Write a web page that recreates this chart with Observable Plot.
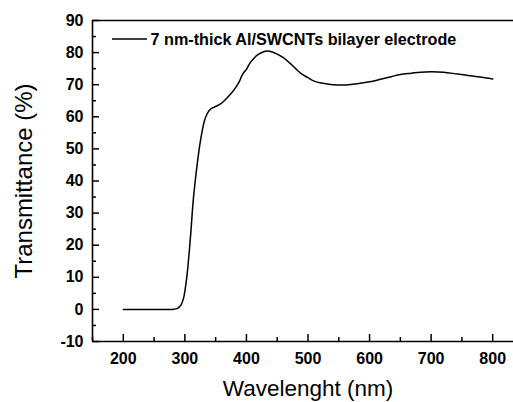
<!DOCTYPE html>
<html>
<head>
<meta charset="utf-8">
<script src="https://cdn.jsdelivr.net/npm/d3@7"></script>
<script src="https://cdn.jsdelivr.net/npm/@observablehq/plot@0.6"></script>
<style>
  html, body { margin: 0; padding: 0; background: #fff; overflow: hidden; }
  #chart svg { display: block; }
</style>
</head>
<body>
<div id="chart"></div>
<script>
// Data
const wavelength = [200, 250, 280, 288, 294, 298, 303, 309, 314, 320, 326, 333, 341, 350, 358, 366, 374, 381, 388, 393, 396, 399, 406, 413, 420, 427, 434, 442, 450, 460, 470, 480, 490, 500, 510, 522, 537, 556, 580, 600, 618, 635, 650, 668, 683, 700, 720, 743, 760, 775, 790, 800];
const transmittance = [0, 0, 0, 0.3, 1.5, 3.6, 9.8, 22.3, 34.8, 45.2, 53.3, 59.5, 62.3, 63.2, 64.0, 65.4, 67.0, 68.7, 70.8, 73.0, 73.9, 74.5, 76.8, 78.4, 79.5, 80.2, 80.5, 80.2, 79.5, 78.4, 76.8, 75.0, 73.3, 72.2, 71.1, 70.5, 70.1, 69.9, 70.3, 70.9, 71.7, 72.5, 73.2, 73.6, 73.9, 74.0, 73.9, 73.3, 72.9, 72.5, 72.1, 71.8];
const seriesName = "7 nm-thick Al/SWCNTs bilayer electrode";
const xTicks = [200, 300, 400, 500, 600, 700, 800];
const xMinorTicks = [150, 250, 350, 450, 550, 650, 750, 850];
const yTicks = [-10, 0, 10, 20, 30, 40, 50, 60, 70, 80, 90];
const yMinorTicks = [-5, 5, 15, 25, 35, 45, 55, 65, 75, 85];
const xTitle = "Wavelenght (nm)";
const yTitle = "Transmittance (%)";

const data = wavelength.map((w, i) => ({w, t: transmittance[i]}));

const font = "'Liberation Sans', Arial, sans-serif";

const chart = Plot.plot({
  width: 513,
  height: 402,
  marginLeft: 92,
  marginTop: 20,
  marginBottom: 61,
  marginRight: -10,
  style: {fontFamily: font, background: "#fff", color: "#000"},
  x: {domain: [150, 850]},
  y: {domain: [-10, 90]},
  marks: [
    // frame lines
    Plot.ruleY([-10, 90], {stroke: "#000", strokeWidth: 1.6}),
    Plot.ruleX([150], {stroke: "#000", strokeWidth: 1.6}),
    // inward ticks
    Plot.axisX(xTicks, {tickSize: -7, tickFormat: () => "", strokeWidth: 1.5, label: null}),
    Plot.axisX(xMinorTicks, {tickSize: -4, tickFormat: () => "", strokeWidth: 1.5, label: null}),
    Plot.axisY(yTicks, {tickSize: -7, tickFormat: () => "", strokeWidth: 1.5, label: null}),
    Plot.axisY(yMinorTicks, {tickSize: -4, tickFormat: () => "", strokeWidth: 1.5, label: null}),
    // tick labels
    Plot.axisX(xTicks, {tickSize: 0, tickPadding: 11, fontSize: 16, fontWeight: "bold", label: null, tickFormat: d => String(d)}),
    Plot.axisY(yTicks, {tickSize: 0, tickPadding: 9, fontSize: 16, fontWeight: "bold", label: null, tickFormat: d => String(d)}),
    // curve
    Plot.line(data, {x: "w", y: "t", stroke: "#000", strokeWidth: 1.5, curve: "catmull-rom"}),
    // axis titles
    Plot.text([xTitle], {frameAnchor: "bottom", dy: 47.5, fontSize: 22.5, textAnchor: "middle", lineAnchor: "middle", fill: "#000"}),
    Plot.text([yTitle], {frameAnchor: "left", dx: -68.5, rotate: -90, fontSize: 24, textAnchor: "middle", lineAnchor: "middle", fill: "#000"}),
    // legend text
    Plot.text([seriesName], {frameAnchor: "top-left", dx: 58, dy: 19.2, textAnchor: "start", lineAnchor: "middle", fontSize: 16.2, fontWeight: "bold", fill: "#000"})
  ]
});

document.getElementById("chart").appendChild(chart);

// legend line sample
d3.select(chart).append("line")
  .attr("x1", 112).attr("x2", 147)
  .attr("y1", 39).attr("y2", 39)
  .attr("stroke", "#000").attr("stroke-width", 1.5);
</script>
</body>
</html>
